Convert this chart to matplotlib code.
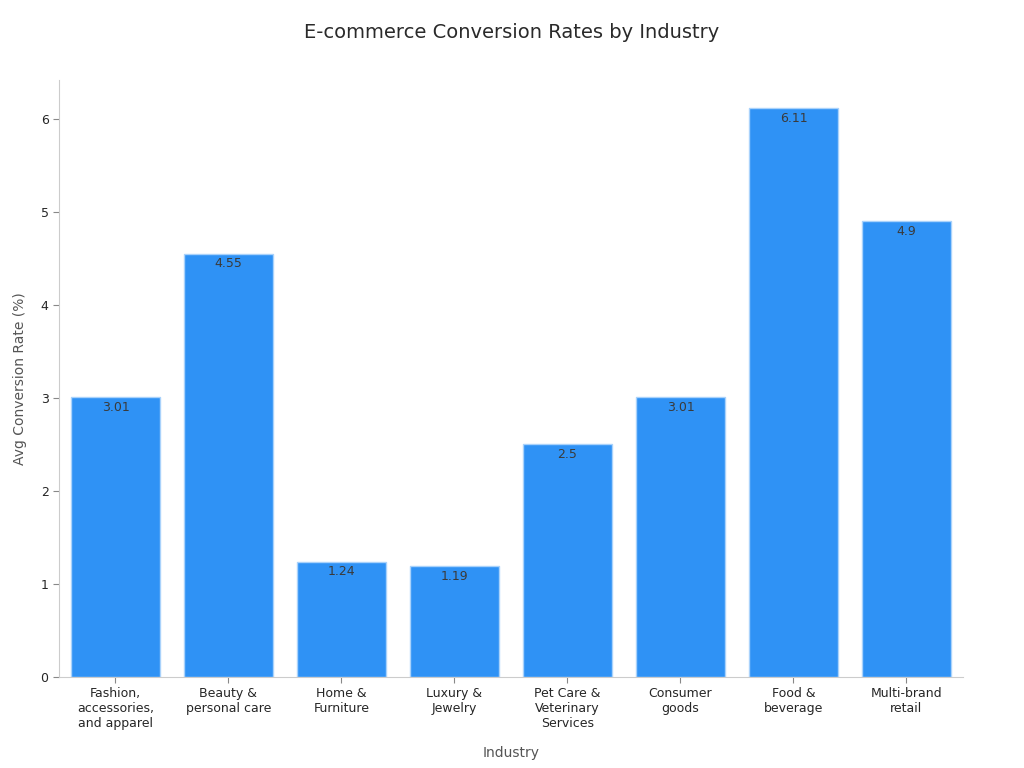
import matplotlib.pyplot as plt

# données
industries = ["Fashion,\naccessories,\nand apparel", "Beauty &\npersonal care", "Home &\nFurniture",
              "Luxury &\nJewelry", "Pet Care &\nVeterinary\nServices", "Consumer\ngoods",
              "Food &\nbeverage", "Multi-brand\nretail"]
rates = [3.01, 4.55, 1.24, 1.19, 2.5, 3.01, 6.11, 4.9]
rate_labels = ["3.01", "4.55", "1.24", "1.19", "2.5", "3.01", "6.11", "4.9"]

fig = plt.figure(figsize=(10.24, 7.68), dpi=100)
ax = fig.add_axes([0.0576, 0.1185, 0.8828, 0.7775])

x = range(len(industries))
bars = ax.bar(x, rates, width=0.79, color="#2f92f5", edgecolor="#a9d2fb", linewidth=1)

# valeurs écrites en haut de chaque barre
for b, lab in zip(bars, rate_labels):
    ax.text(b.get_x() + b.get_width() / 2, b.get_height() - 0.04, lab,
            ha="center", va="top", fontsize=9, color="#3a3a3a")

ax.set_xlim(-0.5, len(industries) - 0.5)
ax.set_ylim(0, max(rates) * 1.05)
ax.set_xticks(list(x))
ax.set_xticklabels(industries, fontsize=9, color="#262626")
ax.tick_params(axis="y", labelsize=9, colors="#262626")
ax.tick_params(color="#888888", length=4)

for s in ["top", "right"]:
    ax.spines[s].set_visible(False)
for s in ["left", "bottom"]:
    ax.spines[s].set_color("#cccccc")

ax.set_xlabel("Industry", fontsize=10, color="#555555", labelpad=11)
ax.set_ylabel("Avg Conversion Rate (%)", fontsize=10, color="#555555", labelpad=10)
fig.suptitle("E-commerce Conversion Rates by Industry", fontsize=14, color="#2a2a2a", y=0.97)

fig.savefig("out.png", dpi=100)
